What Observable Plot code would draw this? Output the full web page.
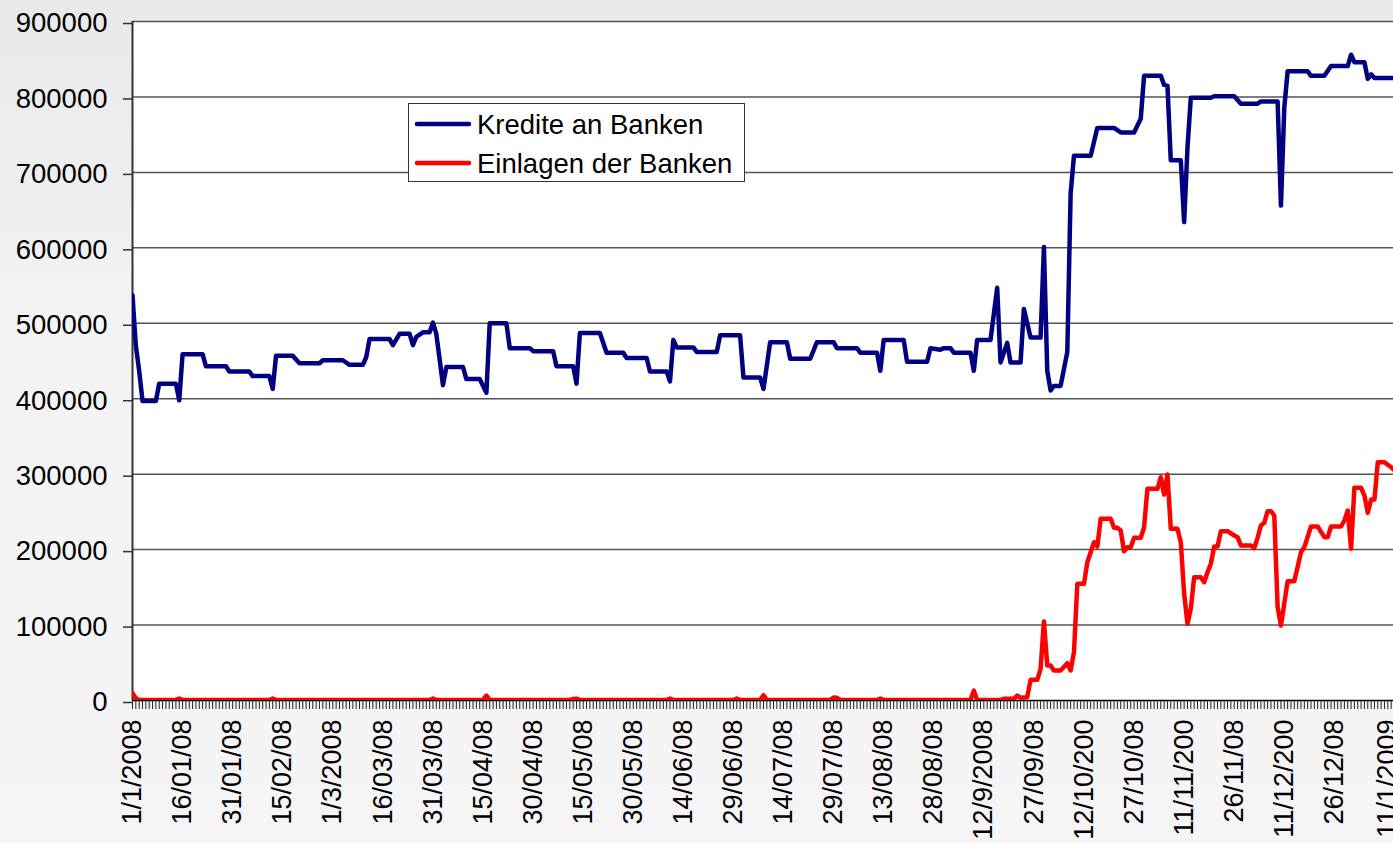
<!DOCTYPE html>
<html>
<head>
<meta charset="utf-8">
<script src="https://cdn.jsdelivr.net/npm/d3@7"></script>
<script src="https://cdn.jsdelivr.net/npm/@observablehq/plot@0.6"></script>
<style>
  html, body { margin: 0; padding: 0; overflow: hidden; }
  body { width: 1393px; height: 843px; background: linear-gradient(to bottom, #e9e9e9 0%, #f3f3f3 40%, #f5f5f5 100%); }
  #wrap { position: relative; width: 1393px; height: 843px; }
  #legend { position: absolute; left: 408px; top: 103px; }
</style>
</head>
<body>
<div id="wrap">
  <div id="chart"></div>
  <svg id="legend" width="338" height="80"></svg>
</div>
<script>
// ---------- Data ----------
const seriesNames = ["Kredite an Banken", "Einlagen der Banken"];
const seriesColors = ["#000080", "#ff0000"];

const krediteDates = [
  "2008-01-01","2008-01-02","2008-01-03","2008-01-04","2008-01-08","2008-01-09","2008-01-14","2008-01-15","2008-01-16","2008-01-22",
  "2008-01-23","2008-01-29","2008-01-30","2008-02-05","2008-02-06","2008-02-11","2008-02-12","2008-02-13","2008-02-18","2008-02-20",
  "2008-02-26","2008-02-27","2008-03-04","2008-03-06","2008-03-10","2008-03-11","2008-03-12","2008-03-18","2008-03-19","2008-03-21",
  "2008-03-24","2008-03-25","2008-03-26","2008-03-28","2008-03-30","2008-03-31","2008-04-01","2008-04-03","2008-04-04","2008-04-09",
  "2008-04-10","2008-04-14","2008-04-16","2008-04-17","2008-04-22","2008-04-23","2008-04-29","2008-04-30","2008-05-06","2008-05-07",
  "2008-05-12","2008-05-13","2008-05-14","2008-05-20","2008-05-22","2008-05-27","2008-05-28","2008-06-03","2008-06-04","2008-06-09",
  "2008-06-10","2008-06-11","2008-06-12","2008-06-17","2008-06-18","2008-06-24","2008-06-25","2008-07-01","2008-07-02","2008-07-07",
  "2008-07-08","2008-07-10","2008-07-15","2008-07-16","2008-07-22","2008-07-24","2008-07-29","2008-07-30","2008-08-05","2008-08-06",
  "2008-08-11","2008-08-12","2008-08-13","2008-08-19","2008-08-20","2008-08-26","2008-08-27","2008-08-30","2008-08-31","2008-09-02",
  "2008-09-03","2008-09-08","2008-09-09","2008-09-10","2008-09-14","2008-09-16","2008-09-17","2008-09-19","2008-09-20","2008-09-23",
  "2008-09-24","2008-09-26","2008-09-29","2008-09-30","2008-10-01","2008-10-02","2008-10-03","2008-10-05","2008-10-07","2008-10-08",
  "2008-10-09","2008-10-14","2008-10-16","2008-10-21","2008-10-23","2008-10-27","2008-10-29","2008-10-30","2008-11-04","2008-11-05",
  "2008-11-06","2008-11-07","2008-11-10","2008-11-11","2008-11-12","2008-11-13","2008-11-19","2008-11-20","2008-11-26","2008-11-28",
  "2008-12-03","2008-12-04","2008-12-09","2008-12-10","2008-12-11","2008-12-12","2008-12-18","2008-12-19","2008-12-23","2008-12-25",
  "2008-12-30","2008-12-31","2009-01-01","2009-01-04","2009-01-05","2009-01-06","2009-01-07","2009-01-13"
];
const krediteValues = [
  537000,470000,437000,397000,397000,420000,420000,398000,459000,459000,
  443000,443000,436000,436000,430000,430000,413000,457000,457000,447000,
  447000,451000,451000,445000,445000,455000,479000,479000,471000,486000,
  486000,471000,482000,488000,488000,501000,486000,418000,442000,442000,
  426000,426000,408000,500000,500000,467000,467000,463000,463000,443000,
  443000,420000,487000,487000,461000,461000,454000,454000,436000,436000,
  423000,478000,468000,468000,462000,462000,484000,484000,428000,428000,
  413000,475000,475000,453000,453000,475000,475000,467000,467000,461000,
  461000,437000,478000,478000,449000,449000,467000,465000,467000,467000,
  461000,461000,437000,478000,478000,547000,448000,474000,448000,448000,
  519000,481000,481000,601000,437000,411000,417000,417000,462000,672000,
  722000,722000,759000,759000,753000,753000,771000,828000,828000,816000,
  815000,716000,716000,634000,733000,799000,799000,801000,801000,791000,
  791000,794000,794000,656000,786000,834000,834000,828000,828000,841000,
  841000,856000,846000,846000,824000,830000,825000,825000
];

const einlagenDates = [
  "2008-01-01","2008-01-02","2008-01-03","2008-01-14","2008-01-15","2008-01-16","2008-02-11","2008-02-12","2008-02-13","2008-03-30",
  "2008-03-31","2008-04-01","2008-04-15","2008-04-16","2008-04-17","2008-05-11","2008-05-12","2008-05-13","2008-05-14","2008-06-09",
  "2008-06-10","2008-06-11","2008-06-29","2008-06-30","2008-07-01","2008-07-07","2008-07-08","2008-07-09","2008-07-28","2008-07-29",
  "2008-07-30","2008-07-31","2008-08-11","2008-08-12","2008-08-13","2008-09-08","2008-09-09","2008-09-10","2008-09-17","2008-09-18",
  "2008-09-21","2008-09-22","2008-09-23","2008-09-25","2008-09-26","2008-09-28","2008-09-29","2008-09-30","2008-10-01","2008-10-02",
  "2008-10-03","2008-10-05","2008-10-07","2008-10-08","2008-10-09","2008-10-10","2008-10-12","2008-10-13","2008-10-14","2008-10-15",
  "2008-10-16","2008-10-17","2008-10-20","2008-10-21","2008-10-22","2008-10-23","2008-10-24","2008-10-25","2008-10-26","2008-10-27",
  "2008-10-29","2008-10-30","2008-10-31","2008-11-03","2008-11-04","2008-11-05","2008-11-06","2008-11-07","2008-11-09","2008-11-10",
  "2008-11-11","2008-11-12","2008-11-13","2008-11-14","2008-11-16","2008-11-17","2008-11-18","2008-11-19","2008-11-20","2008-11-21",
  "2008-11-22","2008-11-24","2008-11-26","2008-11-27","2008-11-28","2008-12-01","2008-12-02","2008-12-03","2008-12-04","2008-12-05",
  "2008-12-06","2008-12-07","2008-12-08","2008-12-09","2008-12-10","2008-12-12","2008-12-14","2008-12-16","2008-12-17","2008-12-19",
  "2008-12-21","2008-12-23","2008-12-24","2008-12-25","2008-12-28","2008-12-29","2008-12-30","2008-12-31","2009-01-01","2009-01-03",
  "2009-01-04","2009-01-05","2009-01-06","2009-01-07","2009-01-08","2009-01-10","2009-01-12","2009-01-13"
];
const einlagenValues = [
  9700,3000,800,800,2500,800,800,2500,800,800,
  2500,800,800,6500,800,800,2000,2500,800,800,
  2500,800,800,2500,800,800,7000,800,800,4000,
  3500,800,800,2500,800,800,13000,800,800,2200,
  2200,6600,3500,4400,27400,27400,42000,104700,46400,46400,
  39800,39800,49400,39800,64000,154700,154700,183300,196600,209800,
  204100,240800,240800,228900,228900,225300,197900,203200,203200,215600,
  215600,229700,280600,280600,296000,273000,299600,227600,227600,209800,
  141400,101700,121500,163400,163400,156800,170000,181200,204100,204100,
  224400,224400,218700,216500,205500,205500,201900,215600,232000,235500,
  251000,251000,245200,123700,99400,158100,158100,196600,203200,230600,
  230600,216500,216500,230600,230600,238600,251800,201100,282000,282000,
  271700,248800,266400,266400,315900,315900,309200,305000
];

const yTicks = [0, 100000, 200000, 300000, 400000, 500000, 600000, 700000, 800000, 900000];

const xTickDates = [
  "2008-01-01","2008-01-16","2008-01-31","2008-02-15","2008-03-01","2008-03-16","2008-03-31","2008-04-15","2008-04-30",
  "2008-05-15","2008-05-30","2008-06-14","2008-06-29","2008-07-14","2008-07-29","2008-08-13","2008-08-28","2008-09-12",
  "2008-09-27","2008-10-12","2008-10-27","2008-11-11","2008-11-26","2008-12-11","2008-12-26","2009-01-11"
];
const xTickLabels = [
  "1/1/2008","16/01/08","31/01/08","15/02/08","1/3/2008","16/03/08","31/03/08","15/04/08","30/04/08",
  "15/05/08","30/05/08","14/06/08","29/06/08","14/07/08","29/07/08","13/08/08","28/08/08","12/9/2008",
  "27/09/08","12/10/200","27/10/08","11/11/200","26/11/08","11/12/200","26/12/08","11/1/2009"
];

// ---------- Build ----------
const parse = d3.utcParse("%Y-%m-%d");
const kredite = krediteDates.map((d, i) => ({date: parse(d), value: krediteValues[i]}));
const einlagen = einlagenDates.map((d, i) => ({date: parse(d), value: einlagenValues[i]}));
const tickDates = xTickDates.map(parse);
const labelMap = new Map(tickDates.map((d, i) => [+d, xTickLabels[i]]));

const x0 = parse("2008-01-01");
const x1 = new Date(Date.UTC(2009, 0, 12, 17));
const dailyTicks = d3.utcDay.range(x0, x1);

const FONT = "'Liberation Sans', Arial, sans-serif";

const chart = Plot.plot({
  width: 1393,
  height: 843,
  marginLeft: 132,
  marginRight: 0,
  marginTop: 21,
  marginBottom: 143,
  style: {background: "transparent", fontFamily: FONT, fontSize: "27px", color: "#000", overflow: "visible"},
  x: {type: "utc", domain: [x0, x1], label: null},
  y: {domain: [0, 900000], label: null},
  marks: [
    Plot.frame({fill: "white", stroke: "none"}),
    Plot.ruleY(yTicks.slice(1), {stroke: "#555", strokeWidth: 1.5}),
    Plot.axisY({ticks: yTicks, tickFormat: d => String(d), tickSize: 9, tickPadding: 16, stroke: "#333", strokeWidth: 1.5, fontSize: 27.5, fill: "#000", dy: 2, label: null}),
    Plot.axisX({ticks: dailyTicks, tickSize: 9, tickFormat: () => "", stroke: "#222", strokeWidth: 1, label: null}),
    Plot.axisX({ticks: tickDates, tickSize: 0, tickPadding: 19, tickRotate: -90, tickFormat: d => labelMap.get(+d), fontSize: 27, fill: "#000", label: null}),
    Plot.ruleX([x0], {stroke: "#333", strokeWidth: 2}),
    Plot.ruleY([0], {stroke: "#000", strokeWidth: 1.5}),
    Plot.line(einlagen, {x: "date", y: "value", stroke: seriesColors[1], strokeWidth: 4.5, strokeLinejoin: "round", clip: true}),
    Plot.line(kredite, {x: "date", y: "value", stroke: seriesColors[0], strokeWidth: 4.5, strokeLinejoin: "round", clip: true})
  ]
});
document.getElementById("chart").appendChild(chart);

// ---------- Legend ----------
const lg = d3.select("#legend");
lg.append("rect").attr("x", 0.5).attr("y", 0.5).attr("width", 336).attr("height", 78)
  .attr("fill", "white").attr("stroke", "#333").attr("stroke-width", 1);
seriesNames.forEach((name, i) => {
  const cy = 21 + i * 39;
  lg.append("line").attr("x1", 9).attr("x2", 61).attr("y1", cy).attr("y2", cy)
    .attr("stroke", seriesColors[i]).attr("stroke-width", 4.5).attr("stroke-linecap", "round");
  lg.append("text").attr("x", 69).attr("y", cy + 10).attr("font-family", FONT).attr("font-size", 27.5)
    .attr("fill", "#000").text(name);
});
</script>
</body>
</html>
